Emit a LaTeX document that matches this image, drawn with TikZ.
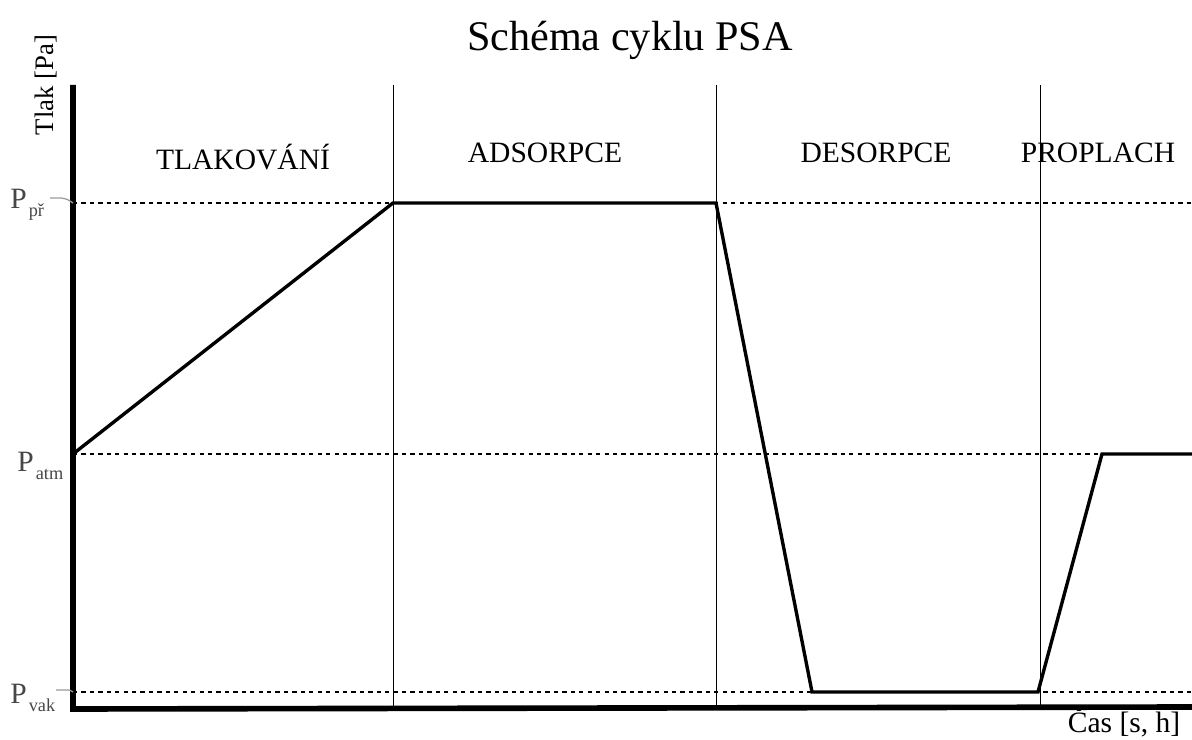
\documentclass[tikz,border=0pt]{standalone}
\usepackage{fontspec}
\setmainfont{Liberation Serif}

\tikzset{
  axis/.style={line width=4pt},
  phase/.style={line width=0.6pt},
  level/.style={dashed, line width=0.8pt},
  curve/.style={line width=2.4pt, line join=miter},
  lbl/.style={font=\fontsize{21}{24}\selectfont},
  plbl/.style={anchor=base west, inner sep=0pt, text=black!72, font=\fontsize{21}{24}\selectfont},
  tick/.style={black!40, line width=0.9pt}
}
\newcommand{\plev}[1]{P\hspace{1.5pt}\raisebox{-5pt}{\fontsize{13}{15}\selectfont #1}}

\begin{document}
\begin{tikzpicture}[x=0.025cm,y=-0.025cm]
\useasboundingbox (0,0) rectangle (1192,740);
% axes
\coordinate (o) at (73,707);
\coordinate (ytop) at (73,85);
\coordinate (xend) at (1192,707);
\draw[axis] (ytop) -- (73,709) -- (xend);
% phase boundaries
\foreach \x/\n in {393/a,716/b,1040/c} {
  \coordinate (top\n) at (\x,85);
  \coordinate (bot\n) at (\x,707);
  \draw[phase] (top\n) -- (bot\n);
}
% pressure levels
\foreach \y/\n in {203/pr,454/atm,692/vak} {
  \coordinate (l\n) at (73,\y);
  \coordinate (r\n) at (1192,\y);
  \draw[level] (l\n) -- (r\n);
}
% cycle
\coordinate (c1) at (393,203);
\coordinate (c2) at (716,203);
\coordinate (c3) at (812,692);
\coordinate (c4) at (1038,692);
\coordinate (c5) at (1102,454);
\draw[curve] (latm) -- (c1) -- (c2) -- (c3) -- (c4) -- (c5) -- (ratm);
% texts
\node[font=\fontsize{30}{36}\selectfont] (title) at (630,40) {Schéma cyklu PSA};
\node[lbl] (tlak) at (243,157) {TLAKOVÁNÍ};
\node[lbl] (ads) at (545,153) {ADSORPCE};
\node[lbl] (des) at (876,153) {DESORPCE};
\node[lbl] (pro) at (1098,153) {PROPLACH};
\node[lbl, font=\fontsize{19}{22}\selectfont, rotate=90] (ylab) at (46,85) {Tlak [Pa]};
\node[lbl] (xlab) at (1124,722) {Čas [s, h]};
\node[plbl] (ppr) at (10,209) {\plev{př}};
\node[plbl] (patm) at (17,472) {\plev{atm}};
\node[plbl] (pvak) at (10,704) {\plev{vak}};
\coordinate (tpr) at (50,198);
\coordinate (tvak) at (56,690);
\draw[tick] (tpr) -- (61,198) .. controls (67,199) .. (lpr);
\draw[tick] (tvak) -- (66,690) .. controls (70,690) .. (lvak);
\end{tikzpicture}
\end{document}
